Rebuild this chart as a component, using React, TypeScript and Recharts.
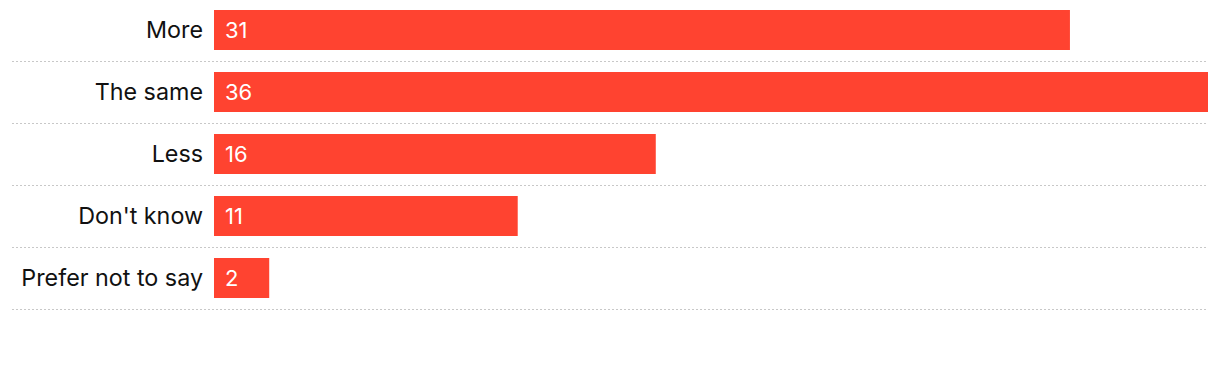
import { BarChart, Bar, XAxis, YAxis, LabelList } from "recharts";

const categories = ["More", "The same", "Less", "Don't know", "Prefer not to say"];
const values = [31, 36, 16, 11, 2];

const BAR_COLOR = "#FF4330";
const FONT = "Inter, 'Noto Sans', sans-serif";

const data = categories.map((name, i) => ({ name, value: values[i] }));

// Category label plus the dotted separator under each row
function RowTick(props: any) {
  const { x, y, payload } = props;
  const half = payload?.offset ?? 31;
  const lineY = Math.round(y + half) + 0.5;
  return (
    <g>
      <text
        x={x - 3}
        y={y}
        dy={8}
        textAnchor="end"
        fill="#111"
        fontSize={23.3}
        fontFamily={FONT}
      >
        {payload.value}
      </text>
      <line
        x1={12}
        x2={1208}
        y1={lineY}
        y2={lineY}
        stroke="#c8c8c8"
        strokeWidth={1}
        strokeDasharray="2 2"
      />
    </g>
  );
}

export default function App() {
  return (
    <div style={{ position: "fixed", left: 0, top: 0, background: "#fff" }}>
      <BarChart
        width={1220}
        height={370}
        data={data}
        layout="vertical"
        margin={{ top: -1, right: 12, bottom: 61, left: 0 }}
      >
        <XAxis type="number" domain={[0, 36]} hide />
        <YAxis
          type="category"
          dataKey="name"
          width={214}
          axisLine={false}
          tickLine={false}
          tick={<RowTick />}
          interval={0}
        />
        <Bar dataKey="value" fill={BAR_COLOR} barSize={40} isAnimationActive={false}>
          <LabelList
            dataKey="value"
            position="insideLeft"
            offset={11}
            fill="#fff"
            fontSize={22}
            fontFamily={FONT}
          />
        </Bar>
      </BarChart>
    </div>
  );
}
